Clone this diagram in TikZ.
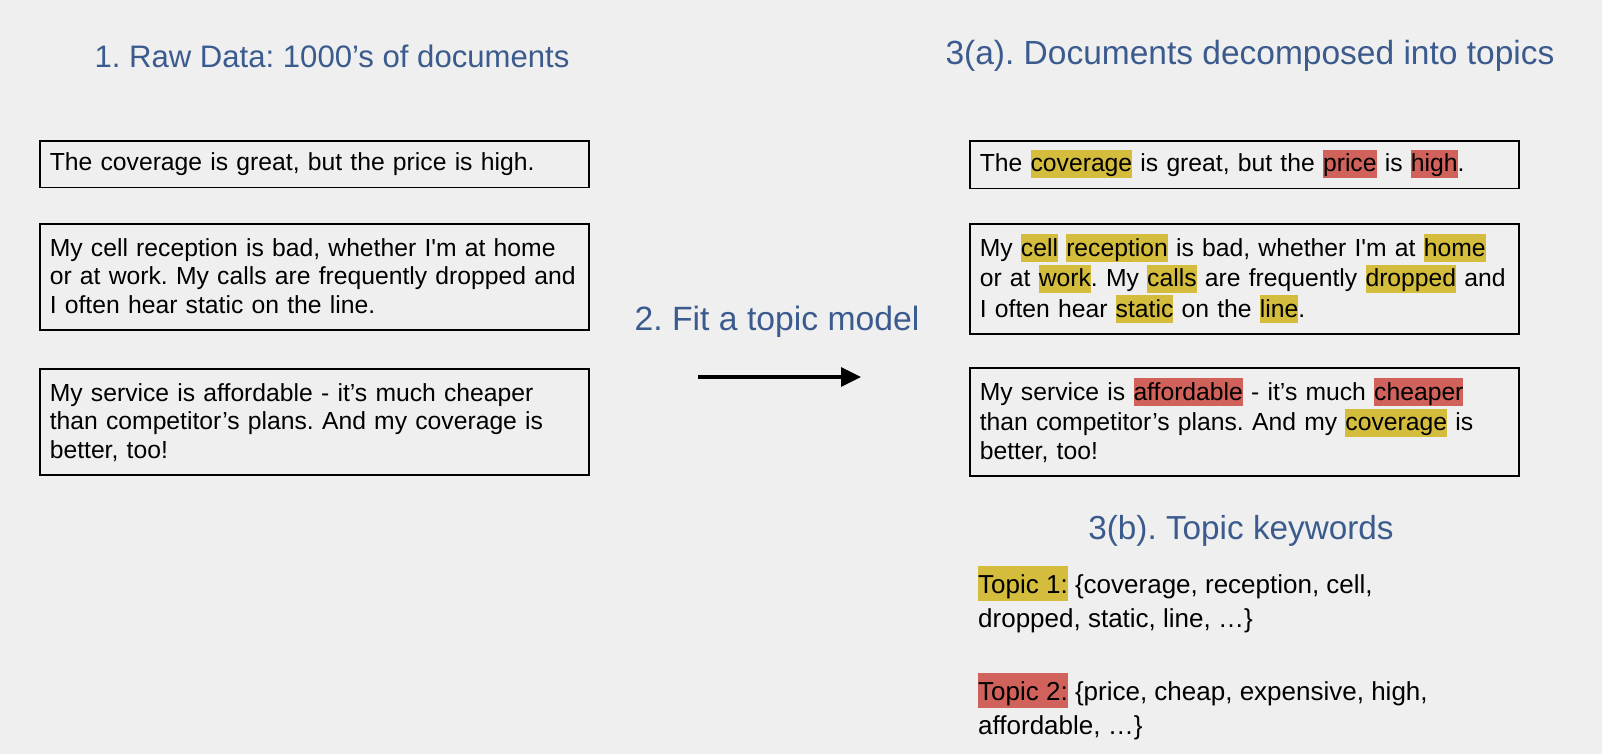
\documentclass[tikz,border=0pt]{standalone}
\usepackage{fontspec}
\newfontfamily\hv{Liberation Sans}
\usetikzlibrary{arrows.meta}
\definecolor{bgc}{HTML}{EFEFEF}
\definecolor{ttl}{HTML}{3B5B8E}
\definecolor{hly}{HTML}{D4BD3C}
\definecolor{hlr}{HTML}{D0625B}
\setlength{\lineskiplimit}{-100pt}
\setlength{\parindent}{0pt}
\frenchspacing
\newcommand{\hlw}[2]{{\setlength{\fboxsep}{0pt}\colorbox{#1}{\rule[-6pt]{0pt}{28pt}#2}}}
\newcommand{\hlt}[2]{{\setlength{\fboxsep}{0pt}\colorbox{#1}{\rule[-8pt]{0pt}{35pt}#2}}}
\newcommand{\bst}{\rule[-7.6pt]{0pt}{28.6pt}}
\newcommand{\fst}{\rule[-7.6pt]{0pt}{31pt}}
\begin{document}
\frenchspacing
\begin{tikzpicture}[x=1pt,y=-1pt,
  doc/.style={draw=black, line width=1.6pt, text width=529pt, inner xsep=10pt, inner ysep=9pt,
    align=left, anchor=north west, font=\hv\fontsize{24.7}{28.6}\selectfont\frenchspacing},
  ttlstyle/.style={text=ttl, inner sep=0pt},
  kw/.style={anchor=base west, inner sep=0pt, font=\hv\fontsize{26}{34.5}\selectfont\frenchspacing}]
\fill[bgc] (0,0) rectangle (1602,754);
\useasboundingbox (0,0) rectangle (1602,754);

\node[ttlstyle, font=\hv\fontsize{31.1}{38}\selectfont\frenchspacing] (t1) at (332,56) {1. Raw Data: 1000’s of documents};
\node[ttlstyle, font=\hv\fontsize{33.5}{38}\selectfont\frenchspacing] (t3a) at (1250,56) {3(a). Documents decomposed into topics};
\node[ttlstyle, font=\hv\fontsize{33.7}{38}\selectfont\frenchspacing] (t2) at (777,322) {2. Fit a topic model};
\node[ttlstyle, font=\hv\fontsize{33.3}{38}\selectfont\frenchspacing] (t3b) at (1241,531) {3(b). Topic keywords};

\node[doc] (d1) at (39,140) {\bst The coverage is great, but the price is high.};
\node[doc] (d2) at (39,223) {\fst\mbox{My cell reception is bad, whether I'm at home}\\
\bst\mbox{or at work. My calls are frequently dropped and}\\
\bst\mbox{I often hear static on the line.}};
\node[doc] (d3) at (39,368) {\fst\mbox{My service is affordable - it’s much cheaper}\\
\bst\mbox{than competitor’s plans. And my coverage is}\\
\bst\mbox{better, too!}};

\node[doc] (a1) at (969,140) {\bst The \hlw{hly}{coverage} is great, but the \hlw{hlr}{price} is \hlw{hlr}{high}.};
\node[doc] (a2) at (969,223) {\fst\mbox{My \hlw{hly}{cell} \hlw{hly}{reception} is bad, whether I'm at \hlw{hly}{home}}\\
\bst\mbox{or at \hlw{hly}{work}. My \hlw{hly}{calls} are frequently \hlw{hly}{dropped} and}\\
\bst\mbox{I often hear \hlw{hly}{static} on the \hlw{hly}{line}.}};
\node[doc] (a3) at (969,367) {\fst\mbox{My service is \hlw{hlr}{affordable} - it’s much \hlw{hlr}{cheaper}}\\
\bst\mbox{than competitor’s plans. And my \hlw{hly}{coverage} is}\\
\bst\mbox{better, too!}};

\node[kw] (k1) at (978,593) {\hlt{hly}{Topic 1:} \{coverage, reception, cell,};
\node[kw] (k2) at (978,627.5) {dropped, static, line, …\}};
\node[kw] (k3) at (978,700) {\hlt{hlr}{Topic 2:} \{price, cheap, expensive, high,};
\node[kw] (k4) at (978,734) {affordable, …\}};

\coordinate (arrS) at (698,377);
\coordinate (arrE) at (861,377);
\draw[line width=3.2pt, -{Triangle[length=20pt,width=19pt]}] (arrS) -- (arrE);
\end{tikzpicture}
\end{document}
